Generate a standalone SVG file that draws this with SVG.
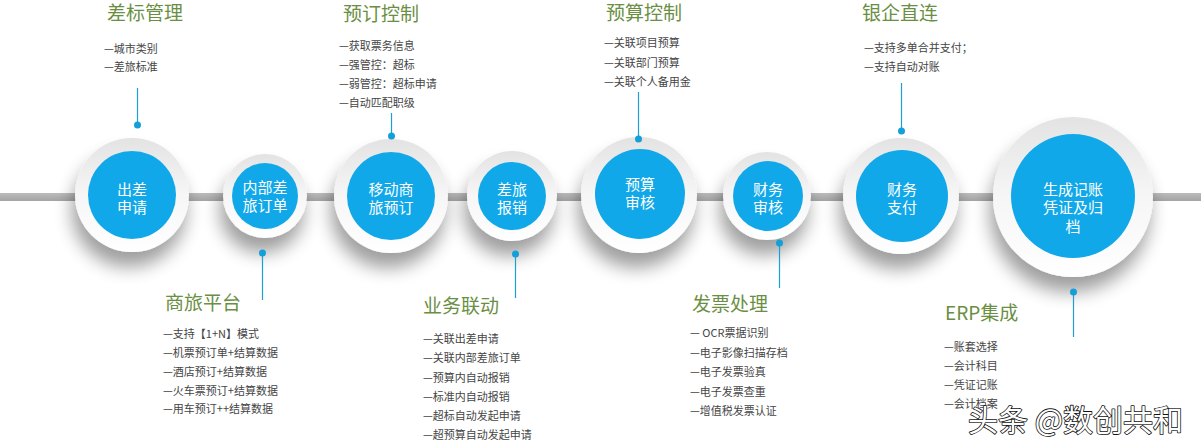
<svg xmlns="http://www.w3.org/2000/svg" width="1201" height="448" viewBox="0 0 1201 448">
<defs>
<style>
.title{font-family:"Noto Sans CJK SC","Noto Sans",sans-serif;font-size:19px;fill:#6a8f43}
.item{font-family:"Noto Sans CJK SC","Noto Sans",sans-serif;font-size:11px;fill:#454545}
.ctext{font-family:"Noto Sans CJK SC","Noto Sans",sans-serif;font-size:15px;fill:#fff;text-anchor:middle}
.ring{fill:url(#ringGrad)}
.core{fill:#10a8e8}
.lead{stroke:#1d9fd3;stroke-width:1.2;fill:none}
.dot{fill:#139fd8}
.wm{font-family:"Noto Sans CJK SC",sans-serif;font-size:30px;fill:#fff;stroke:#111;stroke-width:1.6;paint-order:stroke;stroke-linejoin:round}
</style>
<linearGradient id="ringGrad" x1="0" y1="0" x2="0" y2="1">
<stop offset="0" stop-color="#e3e3e3"/>
<stop offset="0.5" stop-color="#f6f6f6"/>
<stop offset="1" stop-color="#ffffff"/>
</linearGradient>
<linearGradient id="band" x1="0" y1="0" x2="0" y2="1">
<stop offset="0" stop-color="#bcbcbc"/>
<stop offset="1" stop-color="#a4a4a4"/>
</linearGradient>
<filter id="sh" x="-50%" y="-50%" width="200%" height="220%">
<feGaussianBlur in="SourceAlpha" stdDeviation="9"/>
<feOffset dx="-3" dy="15"/>
<feComponentTransfer><feFuncA type="linear" slope="0.38"/></feComponentTransfer>
<feMerge><feMergeNode/><feMergeNode in="SourceGraphic"/></feMerge>
</filter>
</defs>
<rect width="1201" height="448" fill="#fff"/>
<rect x="0" y="193" width="1201" height="8" fill="url(#band)"/>

<g id="n1"><circle class="ring" filter="url(#sh)" cx="132" cy="195" r="57"/><circle class="core" cx="132" cy="195" r="44"/>
<text class="ctext" x="132" y="195">出差<tspan x="132" dy="18">申请</tspan></text></g>
<g id="n2"><circle class="ring" filter="url(#sh)" cx="265" cy="196" r="42"/><circle class="core" cx="265" cy="196" r="33"/>
<text class="ctext" x="265" y="193">内部差<tspan x="265" dy="18">旅订单</tspan></text></g>
<g id="n3"><circle class="ring" filter="url(#sh)" cx="391" cy="196" r="57"/><circle class="core" cx="391" cy="196" r="44"/>
<text class="ctext" x="391" y="195">移动商<tspan x="391" dy="18">旅预订</tspan></text></g>
<g id="n4"><circle class="ring" filter="url(#sh)" cx="512" cy="196" r="45"/><circle class="core" cx="512" cy="196" r="34"/>
<text class="ctext" x="512" y="195">差旅<tspan x="512" dy="18">报销</tspan></text></g>
<g id="n5"><circle class="ring" filter="url(#sh)" cx="639" cy="195" r="58"/><circle class="core" cx="640" cy="194" r="45"/>
<text class="ctext" x="640" y="190">预算<tspan x="640" dy="18">审核</tspan></text></g>
<g id="n6"><circle class="ring" filter="url(#sh)" cx="767" cy="196" r="44"/><circle class="core" cx="768" cy="196" r="35"/>
<text class="ctext" x="768" y="195">财务<tspan x="768" dy="18">审核</tspan></text></g>
<g id="n7"><circle class="ring" filter="url(#sh)" cx="901" cy="196" r="58"/><circle class="core" cx="902" cy="196" r="46"/>
<text class="ctext" x="902" y="195">财务<tspan x="902" dy="18">支付</tspan></text></g>
<g id="n8"><circle class="ring" filter="url(#sh)" cx="1073" cy="197" r="80"/><circle class="core" cx="1073" cy="196" r="62"/>
<text class="ctext" x="1073" y="195">生成记账<tspan x="1073" dy="18">凭证及归</tspan><tspan x="1073" dy="19">档</tspan></text></g>

<g id="connectors">
<line class="lead" x1="137.5" y1="88" x2="137.5" y2="125"/><circle class="dot" cx="137.5" cy="125" r="3.5"/>
<line class="lead" x1="391.5" y1="113" x2="391.5" y2="136"/><circle class="dot" cx="391.5" cy="136" r="3.5"/>
<line class="lead" x1="638.5" y1="92" x2="638.5" y2="139"/><circle class="dot" cx="638.5" cy="139" r="3.5"/>
<line class="lead" x1="901.5" y1="83" x2="901.5" y2="131"/><circle class="dot" cx="901.5" cy="131" r="3.5"/>
<line class="lead" x1="262.5" y1="253" x2="262.5" y2="300"/><circle class="dot" cx="262.5" cy="253" r="3.5"/>
<line class="lead" x1="515.5" y1="254" x2="515.5" y2="298"/><circle class="dot" cx="515.5" cy="254" r="3.5"/>
<line class="lead" x1="779.5" y1="243" x2="779.5" y2="288"/><circle class="dot" cx="779.5" cy="243" r="3.5"/>
<line class="lead" x1="1073.5" y1="292" x2="1073.5" y2="337"/><circle class="dot" cx="1073.5" cy="292" r="3.5"/>
</g>

<g id="label-chabiao">
<text class="title" x="107" y="20">差标管理</text>
<text class="item" x="104" y="53">—城市类别</text>
<text class="item" x="104" y="71">—差旅标准</text>
</g>
<g id="label-yuding">
<text class="title" x="343" y="21">预订控制</text>
<text class="item" x="339" y="50">—获取票务信息</text>
<text class="item" x="339" y="69">—强管控：超标</text>
<text class="item" x="339" y="88">—弱管控：超标申请</text>
<text class="item" x="339" y="107">—自动匹配职级</text>
</g>
<g id="label-yusuan">
<text class="title" x="606" y="20">预算控制</text>
<text class="item" x="604" y="47">—关联项目预算</text>
<text class="item" x="604" y="67">—关联部门预算</text>
<text class="item" x="604" y="86">—关联个人备用金</text>
</g>
<g id="label-yinqi">
<text class="title" x="862" y="20">银企直连</text>
<text class="item" x="864" y="52">—支持多单合并支付；</text>
<text class="item" x="864" y="71">—支持自动对账</text>
</g>
<g id="label-shanglv">
<text class="title" x="165" y="310">商旅平台</text>
<text class="item" x="163" y="338">—支持【1+N】模式</text>
<text class="item" x="163" y="357">—机票预订单+结算数据</text>
<text class="item" x="163" y="376">—酒店预订+结算数据</text>
<text class="item" x="163" y="395">—火车票预订+结算数据</text>
<text class="item" x="163" y="413">—用车预订++结算数据</text>
</g>
<g id="label-yewu">
<text class="title" x="423" y="313">业务联动</text>
<text class="item" x="423" y="343">—关联出差申请</text>
<text class="item" x="423" y="362">—关联内部差旅订单</text>
<text class="item" x="423" y="382">—预算内自动报销</text>
<text class="item" x="423" y="401">—标准内自动报销</text>
<text class="item" x="423" y="420">—超标自动发起申请</text>
<text class="item" x="423" y="439">—超预算自动发起申请</text>
</g>
<g id="label-fapiao">
<text class="title" x="692" y="311">发票处理</text>
<text class="item" x="690" y="337">— OCR票据识别</text>
<text class="item" x="690" y="357">—电子影像扫描存档</text>
<text class="item" x="690" y="376">—电子发票验真</text>
<text class="item" x="690" y="396">—电子发票查重</text>
<text class="item" x="690" y="415">—增值税发票认证</text>
</g>
<g id="label-erp">
<text class="title" x="945" y="320">ERP集成</text>
<text class="item" x="944" y="351">—账套选择</text>
<text class="item" x="944" y="370">—会计科目</text>
<text class="item" x="944" y="389">—凭证记账</text>
<text class="item" x="944" y="408">—会计档案</text>
</g>
<text class="wm" x="968" y="431">头条 @数创共和</text>
</svg>
